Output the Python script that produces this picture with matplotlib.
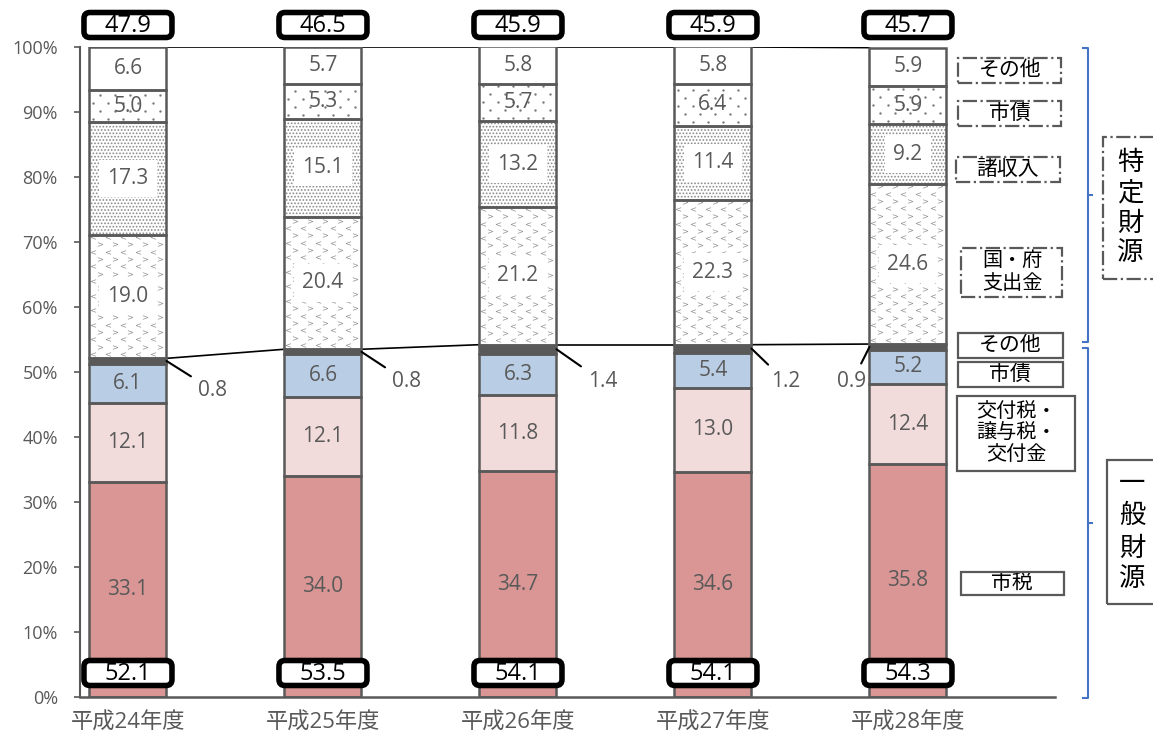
import matplotlib
matplotlib.use('Agg')
import matplotlib.pyplot as plt
import numpy as np
from matplotlib.patches import FancyBboxPatch, Rectangle
from matplotlib.transforms import IdentityTransform
from matplotlib.lines import Line2D

plt.rcParams['font.family'] = ['Open Sans', 'Noto Sans CJK JP', 'DejaVu Sans']
plt.rcParams['hatch.linewidth'] = 0.8
CJK = ['Noto Sans CJK JP', 'DejaVu Sans']

# ---------------- data ----------------
years = ['平成24年度', '平成25年度', '平成26年度', '平成27年度', '平成28年度']
# 一般財源
city_tax = [33.1, 34.0, 34.7, 34.6, 35.8]          # 市税
grant_tax = [12.1, 12.1, 11.8, 13.0, 12.4]         # 交付税・譲与税・交付金
bond_gen = [6.1, 6.6, 6.3, 5.4, 5.2]               # 市債
other_gen = [0.8, 0.8, 1.4, 1.2, 0.9]              # その他
# 特定財源
subsidy = [19.0, 20.4, 21.2, 22.3, 24.6]           # 国・府支出金
misc_income = [17.3, 15.1, 13.2, 11.4, 9.2]        # 諸収入
bond_spec = [5.0, 5.3, 5.7, 6.4, 5.9]              # 市債
other_spec = [6.6, 5.7, 5.8, 5.8, 5.9]             # その他
general_total = [52.1, 53.5, 54.1, 54.1, 54.3]
specific_total = [47.9, 46.5, 45.9, 45.9, 45.7]
yticks = [0, 10, 20, 30, 40, 50, 60, 70, 80, 90, 100]

W, H = 1153, 737
fig = plt.figure(figsize=(W / 100, H / 100), dpi=100)
ax = fig.add_axes([80 / W, 40 / H, 975 / W, 650 / H])
ax.set_xlim(-0.246, 4.754)
ax.set_ylim(0, 100)

x = np.arange(len(years))
bw = 0.395
GRAY = '#595959'
PX = 1 / 195.0      # one pixel in x data units
PY = 1 / 6.5        # one pixel in y data units

series = [
    (city_tax, '#D99694', None, False),
    (grant_tax, '#F2DCDB', None, False),
    (bond_gen, '#B9CDE5', None, False),
    (other_gen, '#595959', None, False),
    (subsidy, 'white', 'chev', True),
    (misc_income, 'white', '.....', True),
    (bond_spec, 'white', 'sparse', False),
    (other_spec, 'white', None, False),
]


def pattern(b, kind):
    x0, y0, h = b.get_x(), b.get_y(), b.get_height()
    if kind == 'chev':
        dx, dy, off, s0 = 15 * PX, 7.3 * PY, 7 * PX, 0.6
    else:
        dx, dy, off, s0 = 15 * PX, 8 * PY, 7 * PX, 0.4
    row = 0
    yy = y0 + dy * s0
    while yy < y0 + h:
        o = 0 if row % 2 == 0 else off
        xs = np.arange(x0 + 4 * PX + o, x0 + bw, dx)
        if kind == 'chev':
            ax.scatter(xs, np.full(len(xs), yy), s=14,
                       marker='$<$' if row % 2 == 0 else '$>$',
                       color='#8f8f8f', linewidths=0, zorder=2.5,
                       clip_path=b, clip_on=True)
        else:
            ax.scatter(xs, np.full(len(xs), yy), s=3, marker='o',
                       color='#7a7a7a', linewidths=0, zorder=2.5,
                       clip_path=b, clip_on=True)
        row += 1
        yy += dy


bottom = np.zeros(len(years))
tops_general = None
for k, (vals, fc, hatch, whitebox) in enumerate(series):
    vals = np.array(vals)
    if hatch is not None and hatch not in ('chev', 'sparse'):
        ax.bar(x, vals, bw, bottom=bottom, color=fc, hatch=hatch,
               edgecolor='#8a8a8a', linewidth=0, zorder=2)
    else:
        ax.bar(x, vals, bw, bottom=bottom, color=fc, linewidth=0, zorder=2)
    bars = ax.bar(x, vals, bw, bottom=bottom, fill=False,
                  edgecolor=GRAY, linewidth=1.8, zorder=3)
    if hatch in ('chev', 'sparse'):
        for b in bars:
            pattern(b, hatch)
    if k != 3:
        for i, v in enumerate(vals):
            kw = dict(ha='center', va='center', fontsize=15, color=GRAY, zorder=5)
            if whitebox:
                kw['bbox'] = dict(boxstyle='square,pad=0.4', fc='white', ec='none')
            ax.text(x[i], bottom[i] + v / 2, f'{v:.1f}', **kw)
    bottom = bottom + vals
    if k == 3:
        tops_general = bottom.copy()
tops_all = bottom.copy()

# series lines between bars
for i in range(len(years) - 1):
    ax.plot([x[i] + bw / 2, x[i + 1] - bw / 2], [tops_general[i], tops_general[i + 1]],
            color='black', lw=1.2, zorder=1)
    ax.plot([x[i] + bw / 2, x[i + 1] - bw / 2], [min(tops_all[i], 100), min(tops_all[i + 1], 100)],
            color='black', lw=1.2, zorder=1)

# leader labels for その他 (一般財源)
label_pos = [(0.436, 47.2), (1.431, 48.5), (2.436, 48.5), (3.374, 48.5), (3.713, 48.5)]
for i, v in enumerate(other_gen):
    mid = tops_general[i] - v / 2
    side = bw / 2 if i < 4 else -bw / 2
    ax.annotate(f'{v:.1f}', xy=(x[i] + side, mid), xytext=label_pos[i],
                ha='center', va='center', fontsize=15, color=GRAY,
                arrowprops=dict(arrowstyle='-', color='black', lw=1.5,
                                shrinkA=4, shrinkB=0), zorder=4)

# axes styling
for s in ['top', 'right']:
    ax.spines[s].set_visible(False)
ax.spines['left'].set_color(GRAY)
ax.spines['bottom'].set_color(GRAY)
ax.spines['left'].set_linewidth(1.5)
ax.spines['bottom'].set_linewidth(1.8)
ax.set_yticks(yticks)
ax.set_yticklabels([f'{t}%' for t in yticks])
ax.tick_params(axis='y', length=4, width=1.2, color=GRAY, labelcolor=GRAY,
               labelsize=13, pad=12)
ax.set_xticks(x)
ax.set_xticklabels(years)
ax.tick_params(axis='x', length=0, labelcolor=GRAY, labelsize=16, pad=11)

# total boxes
fig.canvas.draw()
ID = IdentityTransform()
for i in range(len(years)):
    cx = ax.transData.transform((x[i], 0))[0]
    for val, cy_top in [(specific_total[i], 25), (general_total[i], 673)]:
        cy = H - cy_top
        p = FancyBboxPatch((cx - 44, cy - 12.5), 88, 25,
                           boxstyle='round,pad=0,rounding_size=6',
                           transform=ID, fc='white', ec='black', lw=4, zorder=10)
        fig.add_artist(p)
        fig.text(cx, cy - 1, f'{val:.1f}', transform=ID, ha='center', va='center',
                 fontsize=17, color='black', zorder=11)


def box(x0, y0, x1, y1, ls):
    r = Rectangle((x0, H - y1), x1 - x0, y1 - y0, transform=ID, fill=False,
                  ec=GRAY, lw=1.6, ls=ls, zorder=5)
    fig.add_artist(r)


def label(cx, cy, s, size=15, ls=1.15):
    fig.text(cx, H - cy, s, transform=ID, ha='center', va='center',
             fontsize=size, color='black', linespacing=ls, family=CJK)


# 特定財源 labels (dash-dot boxes)
box(958, 58, 1061, 83, '-.')
label(1010, 70, 'その他')
box(958, 101, 1061, 126, '-.')
label(1010, 113, '市債')
box(956, 157, 1060, 182, '-.')
label(1008, 169, '諸収入')
box(961, 248, 1062, 297, '-.')
label(1012, 272, '国・府\n支出金', size=14.5, ls=1.1)
box(1103, 137, 1160, 279, '-.')
for ch, cy in zip('特定財源', [162, 193, 223, 253]):
    label(1130, cy, ch, size=19)

# 一般財源 labels (solid boxes)
box(958, 333, 1063, 358, '-')
label(1010, 345, 'その他')
box(958, 362, 1063, 387, '-')
label(1010, 374, '市債')
box(957, 396, 1075, 471, '-')
label(1016, 433, '交付税・\n譲与税・\n交付金', size=14.5, ls=1.05)
box(961, 572, 1064, 595, '-')
label(1012, 583, '市税')
box(1107, 460, 1160, 604, '-')
for ch, cy in zip('一般財源', [484, 515, 548, 579]):
    label(1132, cy, ch, size=19)

# brackets
BLUE = '#4472C4'


def seg(xs, ys):
    fig.add_artist(Line2D(xs, [H - y for y in ys], transform=ID, color=BLUE, lw=1.5))


seg([1083, 1087.5, 1087.5, 1083], [48, 48, 342, 342])
seg([1087.5, 1092], [195, 195])
seg([1083, 1087.5, 1087.5, 1083], [348, 348, 698, 698])
seg([1087.5, 1092], [523, 523])

fig.savefig('out.png', dpi=100)
